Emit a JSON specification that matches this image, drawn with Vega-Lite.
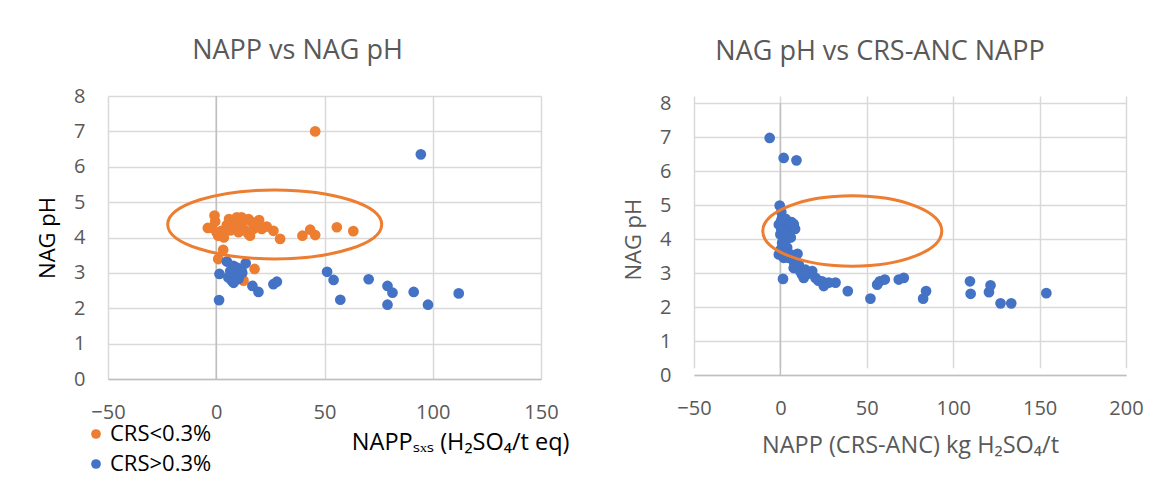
{
  "$schema": "https://vega.github.io/schema/vega-lite/v6.json",
  "padding": {"left": 36, "top": 37, "right": 0, "bottom": 8},
  "background": "white",
  "config": {
    "font": "Open Sans",
    "view": {"stroke": null},
    "axis": {
      "gridColor": "#d9d9d9", "gridWidth": 1.5, "ticks": false, "tickSize": 0,
      "labelColor": "#595959", "labelFontSize": 20, "labelFont": "Open Sans",
      "titleFont": "Open Sans", "titleFontWeight": "normal", "titleFontSize": 22,
      "labelPadding": 23, "domain": false, "labelFlush": false, "labelOverlap": false
    },
    "axisX": {"domain": true, "domainColor": "#bfbfbf", "domainWidth": 1.5, "titleFontSize": 23.5},
    "title": {"fontSize": 27, "fontWeight": "normal", "color": "#595959", "font": "Open Sans"},
    "concat": {"spacing": 53}
  },
  "datasets": {
    "zero": [{"x": 0, "lo": 0, "hi": 8}],
    "napp": [
      {"x": 45.7, "ph": 7.0, "group": "CRS<0.3%"},
      {"x": 55.7, "ph": 4.29, "group": "CRS<0.3%"},
      {"x": 63.3, "ph": 4.18, "group": "CRS<0.3%"},
      {"x": 39.8, "ph": 4.05, "group": "CRS<0.3%"},
      {"x": 43.4, "ph": 4.22, "group": "CRS<0.3%"},
      {"x": 45.7, "ph": 4.07, "group": "CRS<0.3%"},
      {"x": 29.5, "ph": 3.96, "group": "CRS<0.3%"},
      {"x": 26.4, "ph": 4.19, "group": "CRS<0.3%"},
      {"x": 23.3, "ph": 4.31, "group": "CRS<0.3%"},
      {"x": 19.8, "ph": 4.49, "group": "CRS<0.3%"},
      {"x": 14.9, "ph": 4.52, "group": "CRS<0.3%"},
      {"x": 14.9, "ph": 4.10, "group": "CRS<0.3%"},
      {"x": 9.5, "ph": 4.57, "group": "CRS<0.3%"},
      {"x": 5.9, "ph": 4.52, "group": "CRS<0.3%"},
      {"x": -0.8, "ph": 4.62, "group": "CRS<0.3%"},
      {"x": -3.9, "ph": 4.27, "group": "CRS<0.3%"},
      {"x": 0.9, "ph": 4.05, "group": "CRS<0.3%"},
      {"x": 2.4, "ph": 4.19, "group": "CRS<0.3%"},
      {"x": 3.2, "ph": 3.65, "group": "CRS<0.3%"},
      {"x": 0.9, "ph": 3.39, "group": "CRS<0.3%"},
      {"x": 17.7, "ph": 3.11, "group": "CRS<0.3%"},
      {"x": 12.6, "ph": 2.78, "group": "CRS<0.3%"},
      {"x": 11.7, "ph": 4.33, "group": "CRS<0.3%"},
      {"x": 17.2, "ph": 4.24, "group": "CRS<0.3%"},
      {"x": 13.3, "ph": 4.2, "group": "CRS<0.3%"},
      {"x": 7.2, "ph": 4.3, "group": "CRS<0.3%"},
      {"x": 10.3, "ph": 4.15, "group": "CRS<0.3%"},
      {"x": 4.9, "ph": 4.35, "group": "CRS<0.3%"},
      {"x": 21.0, "ph": 4.24, "group": "CRS<0.3%"},
      {"x": 15.6, "ph": 4.05, "group": "CRS<0.3%"},
      {"x": 8.7, "ph": 4.41, "group": "CRS<0.3%"},
      {"x": 11.7, "ph": 4.57, "group": "CRS<0.3%"},
      {"x": 0.2, "ph": 4.14, "group": "CRS<0.3%"},
      {"x": -2.0, "ph": 4.27, "group": "CRS<0.3%"},
      {"x": -0.5, "ph": 4.45, "group": "CRS<0.3%"},
      {"x": 3.5, "ph": 4.0, "group": "CRS<0.3%"},
      {"x": 18.5, "ph": 4.35, "group": "CRS<0.3%"},
      {"x": 16.0, "ph": 4.45, "group": "CRS<0.3%"},
      {"x": 6.5, "ph": 4.2, "group": "CRS<0.3%"},
      {"x": 4.9, "ph": 3.32, "group": "CRS>0.3%"},
      {"x": 1.5, "ph": 2.97, "group": "CRS>0.3%"},
      {"x": 7.9, "ph": 3.2, "group": "CRS>0.3%"},
      {"x": 7.2, "ph": 2.78, "group": "CRS>0.3%"},
      {"x": 8.7, "ph": 2.97, "group": "CRS>0.3%"},
      {"x": 11.7, "ph": 3.06, "group": "CRS>0.3%"},
      {"x": 13.6, "ph": 3.27, "group": "CRS>0.3%"},
      {"x": 5.6, "ph": 2.87, "group": "CRS>0.3%"},
      {"x": 10.3, "ph": 2.83, "group": "CRS>0.3%"},
      {"x": 1.3, "ph": 2.23, "group": "CRS>0.3%"},
      {"x": 16.7, "ph": 2.63, "group": "CRS>0.3%"},
      {"x": 19.5, "ph": 2.46, "group": "CRS>0.3%"},
      {"x": 26.4, "ph": 2.68, "group": "CRS>0.3%"},
      {"x": 28.0, "ph": 2.75, "group": "CRS>0.3%"},
      {"x": 51.2, "ph": 3.03, "group": "CRS>0.3%"},
      {"x": 54.2, "ph": 2.8, "group": "CRS>0.3%"},
      {"x": 57.3, "ph": 2.24, "group": "CRS>0.3%"},
      {"x": 70.4, "ph": 2.82, "group": "CRS>0.3%"},
      {"x": 79.1, "ph": 2.63, "group": "CRS>0.3%"},
      {"x": 81.4, "ph": 2.44, "group": "CRS>0.3%"},
      {"x": 79.1, "ph": 2.10, "group": "CRS>0.3%"},
      {"x": 94.5, "ph": 6.35, "group": "CRS>0.3%"},
      {"x": 91.2, "ph": 2.46, "group": "CRS>0.3%"},
      {"x": 97.8, "ph": 2.10, "group": "CRS>0.3%"},
      {"x": 112.0, "ph": 2.42, "group": "CRS>0.3%"},
      {"x": 9.5, "ph": 3.15, "group": "CRS>0.3%"},
      {"x": 6.5, "ph": 3.05, "group": "CRS>0.3%"},
      {"x": 8.0, "ph": 2.72, "group": "CRS>0.3%"},
      {"x": 12.0, "ph": 3.0, "group": "CRS>0.3%"}
    ],
    "crs": [
      {"x": -6.2, "ph": 6.98}, {"x": 1.9, "ph": 6.39}, {"x": 9.3, "ph": 6.32},
      {"x": -0.4, "ph": 4.99}, {"x": 1.0, "ph": 4.63}, {"x": 3.9, "ph": 4.53},
      {"x": 7.7, "ph": 4.43}, {"x": 5.8, "ph": 4.29}, {"x": 1.9, "ph": 4.24},
      {"x": -0.9, "ph": 4.43}, {"x": 0.0, "ph": 4.14}, {"x": 4.8, "ph": 4.04},
      {"x": 1.0, "ph": 3.89}, {"x": 3.9, "ph": 3.75}, {"x": -0.9, "ph": 3.55},
      {"x": 1.9, "ph": 3.45}, {"x": 5.8, "ph": 3.55}, {"x": 9.9, "ph": 3.57},
      {"x": 7.7, "ph": 3.40}, {"x": 10.6, "ph": 3.25}, {"x": 14.5, "ph": 3.1},
      {"x": 7.7, "ph": 3.15}, {"x": 18.4, "ph": 3.06}, {"x": 13.5, "ph": 2.86},
      {"x": 12.5, "ph": 2.96}, {"x": 20.3, "ph": 2.86}, {"x": 24.1, "ph": 2.76},
      {"x": 25.1, "ph": 2.62}, {"x": 31.9, "ph": 2.72}, {"x": 28.0, "ph": 2.72},
      {"x": 1.5, "ph": 2.83}, {"x": 39.0, "ph": 2.47}, {"x": 52.1, "ph": 2.25},
      {"x": 56.0, "ph": 2.66}, {"x": 57.5, "ph": 2.76}, {"x": 60.4, "ph": 2.81},
      {"x": 68.5, "ph": 2.81}, {"x": 71.4, "ph": 2.86}, {"x": 82.6, "ph": 2.25},
      {"x": 84.3, "ph": 2.47}, {"x": 109.7, "ph": 2.76}, {"x": 110.1, "ph": 2.39},
      {"x": 120.7, "ph": 2.44}, {"x": 121.6, "ph": 2.64}, {"x": 127.4, "ph": 2.11},
      {"x": 133.6, "ph": 2.11}, {"x": 153.9, "ph": 2.41},
      {"x": 0.5, "ph": 4.8}, {"x": 2.5, "ph": 4.4}, {"x": 0.5, "ph": 4.3},
      {"x": 2.0, "ph": 4.0}, {"x": 3.0, "ph": 4.6}, {"x": 6.5, "ph": 4.5},
      {"x": 8.5, "ph": 4.3}, {"x": 0.3, "ph": 3.7}, {"x": 2.5, "ph": 3.6},
      {"x": 4.5, "ph": 3.45}, {"x": 0.5, "ph": 4.55}, {"x": 6.0, "ph": 4.05},
      {"x": 4.0, "ph": 4.15}, {"x": 8.0, "ph": 3.3}, {"x": 11.5, "ph": 3.05},
      {"x": 16.0, "ph": 2.98}, {"x": 22.0, "ph": 2.78}, {"x": 14.0, "ph": 3.0},
      {"x": 7.5, "ph": 4.45}
    ],
    "ellipse1": [{"x": 27.0, "ph": 4.37}],
    "ellipse2": [{"x": 41.6, "ph": 4.24}]
  },
  "hconcat": [
    {
      "width": 433,
      "height": 283,
      "title": {"text": "NAPP vs NAG pH", "offset": 21, "dx": -27},
      "layer": [
        {
          "data": {"name": "zero"},
          "mark": {"type": "rule", "color": "#bfbfbf", "strokeWidth": 1.5},
          "encoding": {
            "x": {"field": "x", "type": "quantitative"},
            "y": {"field": "lo", "type": "quantitative"},
            "y2": {"field": "hi"}
          }
        },
        {
          "data": {"name": "napp"},
          "mark": {"type": "point", "filled": true, "opacity": 1, "size": 115},
          "encoding": {
            "x": {
              "field": "x", "type": "quantitative",
              "scale": {"domain": [-50, 150], "nice": false, "zero": false},
              "axis": {
                "values": [-50, 0, 50, 100, 150], "tickCount": 9,
                "title": "NAPPₛₓₛ (H₂SO₄/t eq)",
                "titleColor": "black",
                "titleX": 461, "titleY": 51.5,
                "titleAlign": "right", "titleBaseline": "top"
              }
            },
            "y": {
              "field": "ph", "type": "quantitative",
              "scale": {"domain": [0, 8], "nice": false},
              "axis": {
                "values": [0, 1, 2, 3, 4, 5, 6, 7, 8], "tickCount": 9,
                "title": "NAG pH", "titleColor": "black", "titlePadding": 14
              }
            },
            "color": {
              "field": "group", "type": "nominal",
              "scale": {"domain": ["CRS<0.3%", "CRS>0.3%"], "range": ["#ED7D31", "#4472C4"]},
              "legend": {
                "title": null, "orient": "none", "legendX": -23, "legendY": 327,
                "labelFontSize": 22, "labelColor": "black", "labelFont": "Open Sans",
                "symbolSize": 95, "symbolType": "circle", "rowPadding": 8,
                "labelOffset": 3, "padding": 0
              }
            }
          }
        },
        {
          "data": {"name": "ellipse1"},
          "mark": {
            "type": "point",
            "shape": "M -1 0 C -1 -0.178 -0.5523 -0.3224 0 -0.3224 C 0.5523 -0.3224 1 -0.178 1 0 C 1 0.178 0.5523 0.3224 0 0.3224 C -0.5523 0.3224 -1 0.178 -1 0 Z",
            "size": 45796, "filled": false, "stroke": "#ED7D31", "strokeWidth": 3, "opacity": 1
          },
          "encoding": {
            "x": {"field": "x", "type": "quantitative"},
            "y": {"field": "ph", "type": "quantitative"}
          }
        }
      ]
    },
    {
      "width": 432,
      "height": 279,
      "title": {"text": "NAG pH vs CRS-ANC NAPP", "offset": 27, "dx": -30},
      "layer": [
        {
          "data": {"name": "zero"},
          "mark": {"type": "rule", "color": "#bfbfbf", "strokeWidth": 1.5},
          "encoding": {
            "x": {"field": "x", "type": "quantitative"},
            "y": {"field": "lo", "type": "quantitative"},
            "y2": {"field": "hi"}
          }
        },
        {
          "data": {"name": "crs"},
          "mark": {"type": "point", "filled": true, "opacity": 1, "size": 115, "color": "#4472C4"},
          "encoding": {
            "x": {
              "field": "x", "type": "quantitative",
              "scale": {"domain": [-50, 200], "nice": false, "zero": false},
              "axis": {
                "values": [-50, 0, 50, 100, 150, 200], "tickCount": 9,
                "title": "NAPP (CRS-ANC) kg H₂SO₄/t",
                "titleColor": "#595959",
                "titleY": 58, "titleBaseline": "top"
              }
            },
            "y": {
              "field": "ph", "type": "quantitative",
              "scale": {"domain": [0, 8], "nice": false, "range": [279, 7.3]},
              "axis": {
                "values": [0, 1, 2, 3, 4, 5, 6, 7, 8], "tickCount": 9,
                "title": "NAG pH", "titleColor": "#595959", "titlePadding": 14
              }
            }
          }
        },
        {
          "data": {"name": "ellipse2"},
          "mark": {
            "type": "point",
            "shape": "M -1 0 C -1 -0.2178 -0.5523 -0.3944 0 -0.3944 C 0.5523 -0.3944 1 -0.2178 1 0 C 1 0.2178 0.5523 0.3944 0 0.3944 C -0.5523 0.3944 -1 0.2178 -1 0 Z",
            "size": 32041, "filled": false, "stroke": "#ED7D31", "strokeWidth": 3, "opacity": 1
          },
          "encoding": {
            "x": {"field": "x", "type": "quantitative"},
            "y": {"field": "ph", "type": "quantitative"}
          }
        }
      ]
    }
  ]
}
